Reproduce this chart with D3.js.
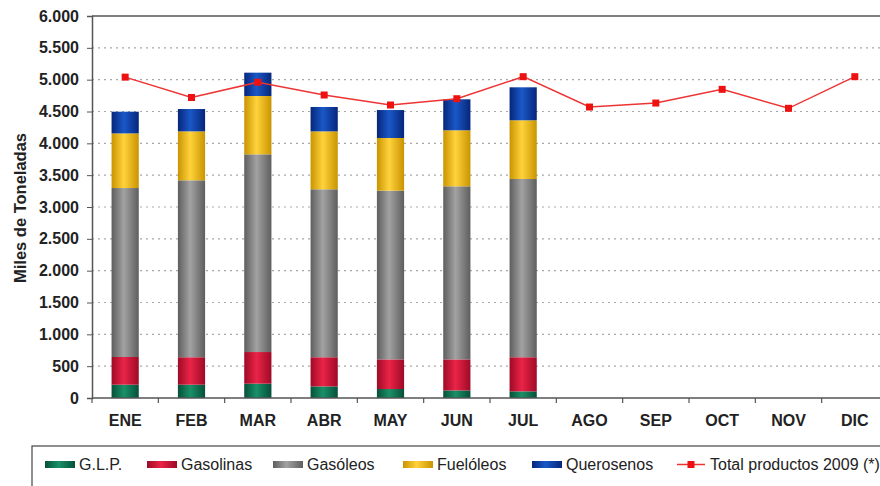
<!DOCTYPE html>
<html><head><meta charset="utf-8">
<script src="https://cdn.jsdelivr.net/npm/d3@7"></script>
<style>
html,body{margin:0;padding:0;background:#fff;}
svg{display:block;font-family:"Liberation Sans",Arial,sans-serif;}
</style></head>
<body><svg id="c" width="880" height="486"></svg>
<script>
const months = ["ENE","FEB","MAR","ABR","MAY","JUN","JUL","AGO","SEP","OCT","NOV","DIC"];
const barMonths = ["ENE","FEB","MAR","ABR","MAY","JUN","JUL"];
const glp        = [209, 209, 225, 182, 141, 119, 104];
const gasolinas  = [435, 431, 497, 458, 465, 487, 536];
const gasoleos   = [2654, 2779, 3105, 2638, 2651, 2719, 2800];
const fueloleos  = [858, 769, 916, 910, 827, 880, 922];
const querosenos = [341, 351, 367, 383, 439, 487, 518];
const totals2009 = [5040, 4720, 4960, 4759, 4602, 4701, 5047, 4570, 4633, 4848, 4550, 5047];
const yTicks = [0,500,1000,1500,2000,2500,3000,3500,4000,4500,5000,5500,6000];
const seriesNames = ["G.L.P.","Gasolinas","Gasóleos","Fuelóleos","Querosenos"];
const lineName = "Total productos 2009 (*)";
const seriesColors = [
  ["#05503a","#1a9068"],
  ["#9e0a26","#ea2448"],
  ["#5e5e5e","#a2a2a2"],
  ["#c99400","#ffd23c"],
  ["#06267a","#1a58c8"]
];

const svg = d3.select("#c");
const L = 92, R = 888, T = 16, B = 398;
const x0 = d3.scaleBand().domain(months).range([L, R]).padding(0);
const x = d3.scaleBand().domain(months).range([L, R]).paddingInner(0.59).paddingOuter(0.295);
const y = d3.scaleLinear().domain([0, 6000]).range([B, T]);
const loc = d3.formatLocale({decimal: ",", thousands: ".", grouping: [3], currency: ["", "€"]});
const fmt = loc.format(",.0f");

// gradients
const defs = svg.append("defs");
seriesColors.forEach((c, i) => {
  const g = defs.append("linearGradient").attr("id", "g" + i)
    .attr("x1", "0%").attr("x2", "100%").attr("y1", "0%").attr("y2", "0%");
  g.append("stop").attr("offset", "0%").attr("stop-color", c[0]);
  g.append("stop").attr("offset", "45%").attr("stop-color", c[1]);
  g.append("stop").attr("offset", "100%").attr("stop-color", c[0]);
});

// gridlines
svg.append("g").selectAll("line").data(yTicks.filter(v => v > 0 && v < 6000)).join("line")
  .attr("x1", L).attr("x2", R).attr("y1", d => y(d)).attr("y2", d => y(d))
  .attr("stroke", "#a8a8a8").attr("stroke-width", 1.2).attr("stroke-dasharray", "2,4");

// stacked bars
const stackData = barMonths.map((m, i) => ({m, s0: glp[i], s1: gasolinas[i], s2: gasoleos[i], s3: fueloleos[i], s4: querosenos[i]}));
const stack = d3.stack().keys(["s0","s1","s2","s3","s4"])(stackData);
stack.forEach((layer, i) => {
  svg.append("g").selectAll("rect").data(layer).join("rect")
    .attr("x", d => x(d.data.m)).attr("width", x.bandwidth())
    .attr("y", d => y(d[1])).attr("height", d => y(d[0]) - y(d[1]))
    .attr("fill", "url(#g" + i + ")");
});

// plot frame top
svg.append("line").attr("x1", L).attr("x2", R).attr("y1", T).attr("y2", T).attr("stroke", "#555").attr("stroke-width", 1.5);

// y axis
const ya = svg.append("g").attr("transform", `translate(${L},0)`)
  .call(d3.axisLeft(y).tickValues(yTicks).tickFormat(fmt).tickSize(5).tickPadding(8));
ya.select(".domain").attr("stroke", "#555").attr("stroke-width", 1.5);
ya.selectAll(".tick line").attr("stroke", "#555");
ya.selectAll("text").attr("font-size", 16).attr("font-weight", "bold").attr("fill", "#222")
  .attr("font-family", "Liberation Sans, Arial, sans-serif");

// x axis
const xa = svg.append("g").attr("transform", `translate(0,${B})`)
  .call(d3.axisBottom(x).tickSize(0).tickPadding(17));
xa.select(".domain").remove();
xa.selectAll("text").attr("font-size", 16).attr("font-weight", "bold").attr("fill", "#222")
  .attr("font-family", "Liberation Sans, Arial, sans-serif");
svg.append("line").attr("x1", L).attr("x2", R).attr("y1", B).attr("y2", B).attr("stroke", "#555").attr("stroke-width", 1.5);
svg.append("g").selectAll("line").data(months).join("line")
  .attr("x1", d => x0(d)).attr("x2", d => x0(d)).attr("y1", B).attr("y2", B + 5)
  .attr("stroke", "#555").attr("stroke-width", 1.2);

// y title
svg.append("text").attr("transform", `translate(26,208) rotate(-90)`)
  .attr("text-anchor", "middle").attr("font-size", 16.5).attr("font-weight", "bold").attr("fill", "#222")
  .text("Miles de Toneladas");

// total line
const cx = m => x(m) + x.bandwidth() / 2;
const line = d3.line().x((d, i) => cx(months[i])).y(d => y(d));
svg.append("path").datum(totals2009).attr("d", line).attr("fill", "none")
  .attr("stroke", "#ee3333").attr("stroke-width", 1.5);
svg.append("g").selectAll("rect").data(totals2009).join("rect")
  .attr("x", (d, i) => cx(months[i]) - 3.5).attr("y", d => y(d) - 3.5)
  .attr("width", 7).attr("height", 7).attr("fill", "#ee1111");

// legend
svg.append("rect").attr("x", 32).attr("y", 446).attr("width", 900).attr("height", 60)
  .attr("fill", "#fff").attr("stroke", "#444").attr("stroke-width", 1.2);
const legX = [45, 147, 273, 403, 532];
const leg = svg.append("g");
seriesNames.forEach((n, i) => {
  leg.append("rect").attr("x", legX[i]).attr("y", 461).attr("width", 30).attr("height", 7)
    .attr("fill", "url(#g" + i + ")");
  leg.append("text").attr("x", legX[i] + 34).attr("y", 470).attr("font-size", 16).attr("fill", "#222").text(n);
});
leg.append("line").attr("x1", 677).attr("x2", 705).attr("y1", 464.5).attr("y2", 464.5).attr("stroke", "#ee3333").attr("stroke-width", 1.5);
leg.append("rect").attr("x", 687.5).attr("y", 461).attr("width", 7).attr("height", 7).attr("fill", "#ee1111");
leg.append("text").attr("x", 710).attr("y", 470).attr("font-size", 16).attr("fill", "#222").text(lineName);
</script></body></html>
